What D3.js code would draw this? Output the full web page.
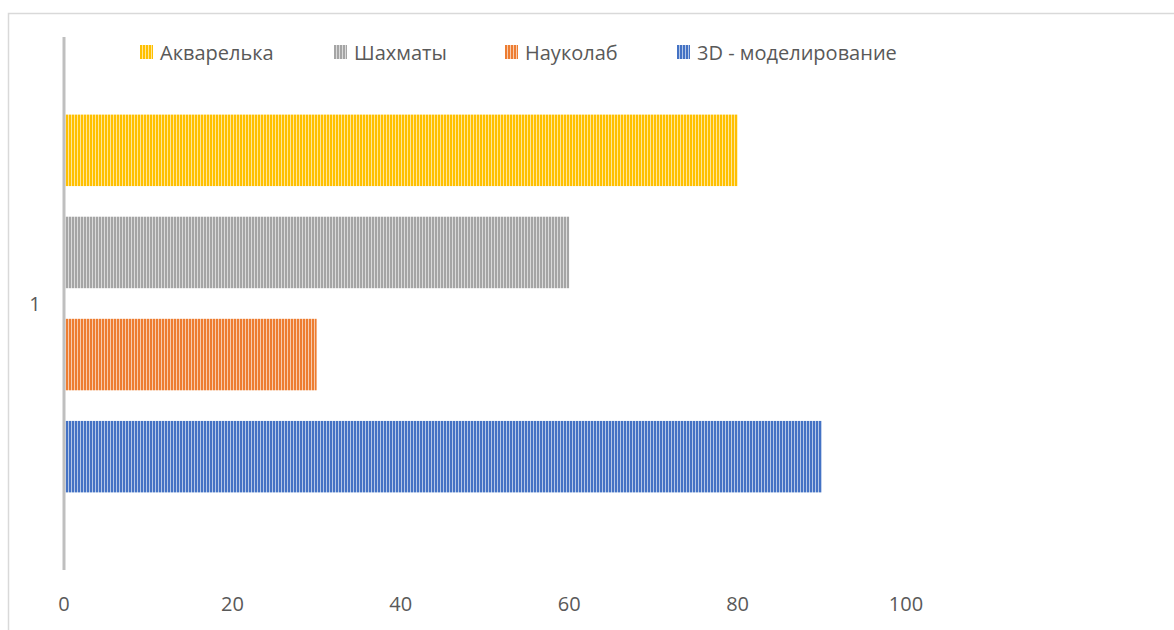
<!DOCTYPE html>
<html>
<head>
<meta charset="utf-8">
<script src="https://cdn.jsdelivr.net/npm/d3@7"></script>
<style>
  html, body { margin: 0; padding: 0; background: #fff; }
  svg { display: block; }
  text { font-family: "Open Sans", "Noto Sans", sans-serif; fill: #595959; }
</style>
</head>
<body>
<svg id="chart" width="1174" height="630"></svg>
<script>
const categories = ["1"];
const seriesNames = ["Акварелька", "Шахматы", "Науколаб", "3D - моделирование"];
const seriesValues = [80, 60, 30, 90];
const seriesColors = ["#FFC000", "#A5A5A5", "#ED7D31", "#4472C4"];
const xTicks = [0, 20, 40, 60, 80, 100];

const svg = d3.select("#chart");
const W = 1174, H = 630;

// chart area border
svg.append("rect")
  .attr("x", 8.5).attr("y", 13.5)
  .attr("width", W + 20).attr("height", H + 20)
  .attr("fill", "#fff").attr("stroke", "#D9D9D9").attr("stroke-width", 1.5);

// patterns (dark vertical stripes)
const defs = svg.append("defs");
seriesColors.forEach((c, i) => {
  const p = defs.append("pattern")
    .attr("id", "pat" + i)
    .attr("patternUnits", "userSpaceOnUse")
    .attr("width", 3).attr("height", 10);
  p.append("rect").attr("width", 3).attr("height", 10).attr("fill", c).attr("opacity", 0.4);
  p.append("rect").attr("width", 2).attr("height", 10).attr("fill", c);
});

const x = d3.scaleLinear().domain([0, 100]).range([64, 906]);
const yCat = d3.scaleBand().domain(categories).range([37, 570]);
const ySer = d3.scaleBand().domain(seriesNames)
  .range([yCat(categories[0]), yCat(categories[0]) + yCat.bandwidth()])
  .paddingInner(0.3).paddingOuter(0.76);

// bars
svg.append("g").selectAll("rect")
  .data(seriesNames.map((n, i) => ({ name: n, value: seriesValues[i], i })))
  .join("rect")
  .attr("x", x(0) + 1.5)
  .attr("y", d => ySer(d.name))
  .attr("width", d => x(d.value) - x(0) - 1.5)
  .attr("height", ySer.bandwidth())
  .attr("fill", d => "url(#pat" + d.i + ")");

// vertical axis line
svg.append("line")
  .attr("x1", x(0)).attr("x2", x(0))
  .attr("y1", 37).attr("y2", 570)
  .attr("stroke", "#BFBFBF").attr("stroke-width", 3);

// category label
svg.append("g").selectAll("text")
  .data(categories)
  .join("text")
  .attr("x", 35)
  .attr("y", d => yCat(d) + yCat.bandwidth() / 2)
  .attr("text-anchor", "middle")
  .attr("dominant-baseline", "central")
  .attr("font-size", 20)
  .text(d => d);

// x tick labels
svg.append("g").selectAll("text")
  .data(xTicks)
  .join("text")
  .attr("x", d => x(d))
  .attr("y", 603)
  .attr("text-anchor", "middle")
  .attr("dominant-baseline", "central")
  .attr("font-size", 20)
  .text(d => d);

// legend
const legendX = [140, 334, 505, 677];
const lg = svg.append("g").selectAll("g")
  .data(seriesNames)
  .join("g")
  .attr("transform", (d, i) => `translate(${legendX[i]},52)`);
lg.append("rect")
  .attr("x", 0).attr("y", -7)
  .attr("width", 13).attr("height", 14)
  .attr("fill", (d, i) => "url(#pat" + i + ")");
lg.append("text")
  .attr("x", 20).attr("y", 0)
  .attr("dominant-baseline", "central")
  .attr("font-size", 20)
  .text(d => d);
</script>
</body>
</html>
